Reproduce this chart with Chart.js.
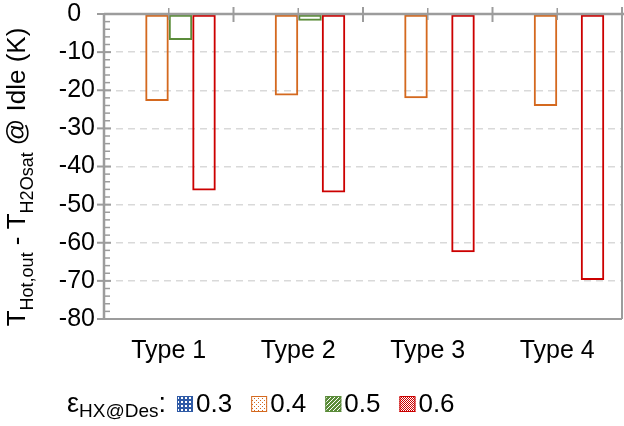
<!DOCTYPE html>
<html>
<head>
<meta charset="utf-8">
<script src="https://cdn.jsdelivr.net/npm/chart.js@4/dist/chart.umd.min.js"></script>
<style>
  html, body { margin: 0; padding: 0; background: #ffffff; }
  canvas { display: block; }
</style>
</head>
<body>
<canvas id="chart" width="624" height="426"></canvas>
<script>
// Categories and series (temperature difference at idle, K)
const categories = ['Type 1', 'Type 2', 'Type 3', 'Type 4'];
const seriesLabels = ['0.3', '0.4', '0.5', '0.6'];
const eps03 = [null, null, null, null];
const eps04 = [-22.8, -21.4, -22.1, -24.1];
const eps05 = [-6.8, -1.8, null, null];
const eps06 = [-46.3, -46.8, -62.5, -69.8];
const yTickValues = [0, -10, -20, -30, -40, -50, -60, -70, -80];
const yTickLabels = ['0\u2007', '-10', '-20', '-30', '-40', '-50', '-60', '-70', '-80'];

const FONT = "'Liberation Sans', Arial, Helvetica, sans-serif";
const AXIS = '#9c9c9c';
const GRID = '#d9d9d9';
const COLORS = ['#2f5aa6', '#d4691f', '#5b8c3a', '#cc0000'];

// Small fill patterns used by the legend swatches
function makePattern(kind, color) {
  const c = document.createElement('canvas');
  c.width = 4; c.height = 4;
  const g = c.getContext('2d');
  g.fillStyle = '#ffffff';
  g.fillRect(0, 0, 4, 4);
  g.fillStyle = color;
  if (kind === 'grid') {
    g.fillRect(0, 0, 4, 4);
    g.fillStyle = '#ffffff';
    g.fillRect(1, 1, 2, 2);
  } else if (kind === 'dots') {
    g.fillRect(0, 0, 1, 1);
    g.fillRect(2, 2, 1, 1);
  } else if (kind === 'diag') {
    g.fillRect(0, 0, 4, 4);
    g.fillStyle = '#ffffff';
    g.fillRect(0, 3, 1, 1); g.fillRect(1, 2, 1, 1);
    g.fillRect(2, 1, 1, 1); g.fillRect(3, 0, 1, 1);
  } else {
    g.fillRect(0, 0, 1, 1); g.fillRect(2, 0, 1, 1);
    g.fillRect(1, 1, 1, 1); g.fillRect(3, 1, 1, 1);
    g.fillRect(0, 2, 1, 1); g.fillRect(2, 2, 1, 1);
    g.fillRect(1, 3, 1, 1); g.fillRect(3, 3, 1, 1);
  }
  return c;
}
const patternKinds = ['grid', 'dots', 'diag', 'checker'];

function seg(ctx, x1, y1, x2, y2) {
  ctx.beginPath();
  ctx.moveTo(x1, y1);
  ctx.lineTo(x2, y2);
  ctx.stroke();
}

// Axis lines, tick marks and plot border
const axesPlugin = {
  id: 'axesPlugin',
  afterDatasetsDraw(chart) {
    const { ctx, chartArea: a, scales: { x, y } } = chart;
    ctx.save();
    ctx.strokeStyle = AXIS;
    ctx.lineCap = 'butt';
    // bottom and right border
    ctx.lineWidth = 2;
    seg(ctx, a.left, a.bottom, a.right, a.bottom);
    seg(ctx, a.right, a.top, a.right, a.bottom);
    // vertical axis with major and minor ticks
    ctx.lineWidth = 2.5;
    seg(ctx, a.left, a.top, a.left, a.bottom);
    for (let v = 0; v >= -80; v -= 2) {
      const py = y.getPixelForValue(v);
      if (v % 10 === 0) {
        ctx.lineWidth = 2;
        seg(ctx, a.left - 7, py, a.left + 7, py);
      } else {
        ctx.lineWidth = 1.5;
        seg(ctx, a.left, py, a.left + 6, py);
      }
    }
    // horizontal axis at zero with category ticks
    const y0 = y.getPixelForValue(0);
    ctx.lineWidth = 2.5;
    seg(ctx, a.left, y0, chart.width, y0);
    const half = (x.getPixelForValue(1) - x.getPixelForValue(0)) / 2;
    categories.forEach((c, i) => {
      const cx = x.getPixelForValue(i);
      ctx.lineWidth = 1.5;
      seg(ctx, cx, y0 - 6, cx, y0 + 6);
      ctx.lineWidth = 2;
      seg(ctx, cx + half, y0 - 7, cx + half, y0 + 8);
    });
    ctx.restore();
  }
};

// Draws text runs with subscripts along the current baseline
function drawRuns(ctx, runs, x0, base, mainSize, subSize, subShift) {
  let xx = x0;
  runs.forEach(r => {
    ctx.font = (r.sub ? subSize : mainSize) + 'px ' + FONT;
    ctx.fillText(r.t, xx, base + (r.sub ? subShift : 0));
    xx += ctx.measureText(r.t).width;
  });
  return xx;
}
function runsWidth(ctx, runs, mainSize, subSize) {
  let w = 0;
  runs.forEach(r => {
    ctx.font = (r.sub ? subSize : mainSize) + 'px ' + FONT;
    w += ctx.measureText(r.t).width;
  });
  return w;
}

const titleRuns = [
  { t: 'T', sub: false },
  { t: 'Hot,out', sub: true },
  { t: ' - T', sub: false },
  { t: 'H2Osat', sub: true },
  { t: ' @ Idle (K)', sub: false }
];
const legendPrefix = [
  { t: '\u03b5', sub: false },
  { t: 'HX@Des', sub: true },
  { t: ':', sub: false }
];

// Vertical axis title and legend
const textPlugin = {
  id: 'textPlugin',
  afterDraw(chart) {
    const { ctx } = chart;
    ctx.save();
    ctx.fillStyle = '#000000';
    ctx.textBaseline = 'alphabetic';
    ctx.textAlign = 'left';
    // axis title
    const w = runsWidth(ctx, titleRuns, 26, 18);
    ctx.save();
    ctx.translate(25, 177);
    ctx.rotate(-Math.PI / 2);
    drawRuns(ctx, titleRuns, -w / 2, 0, 26, 18, 8);
    ctx.restore();
    // legend
    const base = 412;
    let lx = drawRuns(ctx, legendPrefix, 67, base, 27, 19, 5);
    lx += 11;
    chart.data.datasets.forEach((ds, i) => {
      const pat = ctx.createPattern(makePattern(patternKinds[i], COLORS[i]), 'repeat');
      ctx.fillStyle = pat;
      ctx.fillRect(lx, 396, 16, 16);
      ctx.strokeStyle = COLORS[i];
      ctx.lineWidth = 1;
      ctx.strokeRect(lx + 0.5, 396.5, 15, 15);
      ctx.fillStyle = '#000000';
      ctx.font = '26px ' + FONT;
      ctx.fillText(ds.label, lx + 19, base);
      lx += 19 + ctx.measureText(ds.label).width + 19;
    });
    ctx.restore();
  }
};

const seriesValues = [eps03, eps04, eps05, eps06];
const datasets = seriesLabels.map((lab, i) => ({
  label: lab,
  data: seriesValues[i],
  backgroundColor: 'rgba(255,255,255,0)',
  borderColor: COLORS[i],
  borderWidth: 2,
  borderSkipped: false,
  categoryPercentage: 0.726,
  barPercentage: 1.0
}));

new Chart(document.getElementById('chart'), {
  type: 'bar',
  data: { labels: categories, datasets: datasets },
  options: {
    responsive: false,
    animation: false,
    devicePixelRatio: 1,
    layout: { padding: { top: 14, right: 2, bottom: 0, left: 0 } },
    plugins: { legend: { display: false }, tooltip: { enabled: false } },
    scales: {
      x: {
        type: 'category',
        position: 'bottom',
        grid: { display: false, drawTicks: false },
        border: { display: false },
        ticks: { color: '#000000', font: { family: FONT, size: 25 }, padding: 17, maxRotation: 0 },
        afterFit(scale) { scale.height = 107; scale.paddingLeft = 0; scale.paddingRight = 0; }
      },
      y: {
        min: -80,
        max: 0,
        afterBuildTicks(scale) { scale.ticks = yTickValues.map(v => ({ value: v })); },
        grid: {
          drawTicks: false,
          color: ctx => (ctx.tick && (ctx.tick.value === 0 || ctx.tick.value === -80)) ? 'rgba(0,0,0,0)' : GRID,
          lineWidth: 1.5
        },
        border: { display: false, dash: [7, 5] },
        ticks: {
          color: '#000000',
          font: { family: FONT, size: 25 },
          padding: 9,
          callback: (v) => yTickLabels[yTickValues.indexOf(v)]
        },
        afterFit(scale) { scale.width = 104; scale.paddingTop = 0; scale.paddingBottom = 0; }
      }
    }
  },
  plugins: [axesPlugin, textPlugin]
});
</script>
</body>
</html>
